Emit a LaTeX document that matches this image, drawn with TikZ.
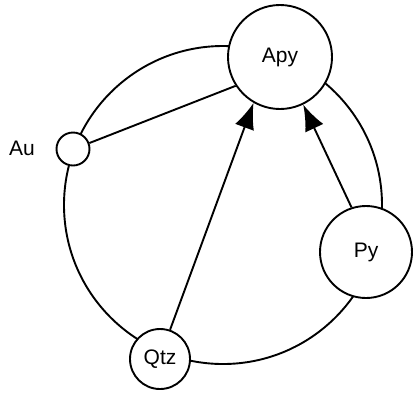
\documentclass[tikz,border=0pt]{standalone}
\usepackage{fontspec}
\setmainfont{Liberation Sans}
\usetikzlibrary{arrows.meta}
\begin{document}
\begin{tikzpicture}[x=1pt,y=-1pt,
  ln/.style={line width=1.9pt},
  lab/.style={font=\fontsize{21}{21}\selectfont},
  mineral/.style={circle,draw,ln,fill=white,inner sep=0pt,lab},
  arr/.style={ln,-{Latex[length=26pt,width=20pt]}}]
\useasboundingbox (0,0) rectangle (414,392);
\node[circle,draw,ln,minimum size=318pt,inner sep=0pt] (ring) at (223,205) {};
\node[mineral,minimum size=104pt] (Apy) at (280,57) {Apy};
\node[mineral,minimum size=33pt] (Au) at (73,149) {};
\node[lab] (Aulab) at (22,148) {Au};
\node[mineral,minimum size=60pt] (Qtz) at (160,359) {Qtz};
\node[mineral,minimum size=92pt] (Py) at (366,252) {Py};
\draw[ln] (Au.20) -- (Apy.213);
\draw[arr] (Qtz.71) -- (Apy.240);
\draw[arr] (Py.108) -- (Apy.296);
\end{tikzpicture}
\end{document}
